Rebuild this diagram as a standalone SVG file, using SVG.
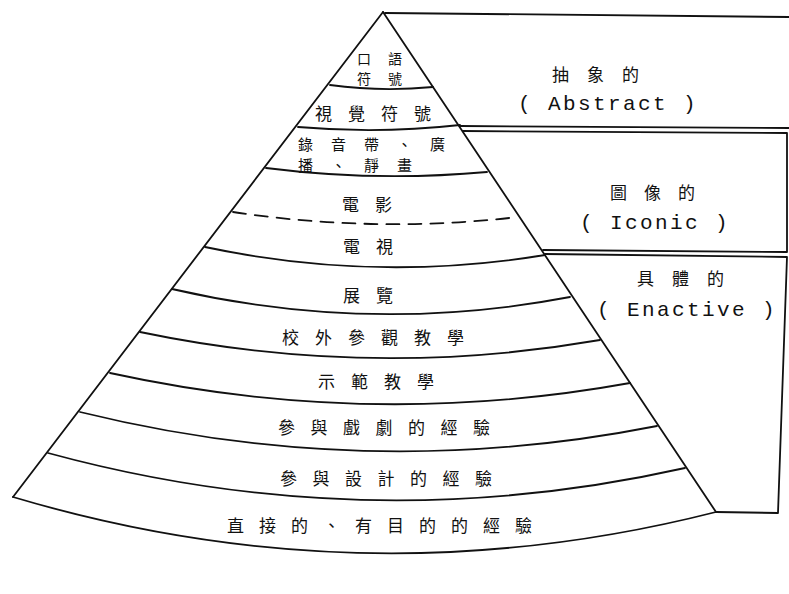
<svg xmlns="http://www.w3.org/2000/svg" width="789" height="594" viewBox="0 0 789 594">
<style>
.ln{fill:none;stroke:#111;stroke-width:1.8;stroke-linecap:round;stroke-linejoin:round}
.dash{stroke-dasharray:13 9}
.zh{font-family:"Noto Sans CJK TC","Noto Sans CJK SC",sans-serif;font-size:17px;fill:#111;letter-spacing:16px}
.en{font-family:"Liberation Mono",monospace;font-size:21px;fill:#111;letter-spacing:2.4px}
</style>
<rect width="789" height="594" fill="#fff"/>
<g id="connectors">
  <path class="ln" d="M383,12 L13,497"/>
  <path class="ln" d="M383,12 L716,512"/>
  <path class="ln" d="M330,85 Q381,92 433,87"/>
  <path class="ln" d="M298,127 Q379,134 460,125"/>
  <path class="ln" d="M266,168 Q376,182 487,172"/>
  <path class="ln dash" d="M233,212 Q375,233.5 518,217"/>
  <path class="ln" d="M205,247 Q375,283 545,255"/>
  <path class="ln" d="M172,289 Q371,335 570,297"/>
  <path class="ln" d="M140,332 Q370,380 600,340"/>
  <path class="ln" d="M110,373 Q370,430 630,383"/>
  <path class="ln" d="M80,412 Q368,483 657,426"/>
  <path class="ln" d="M48,453 Q366,539.5 685,468"/>
  <path class="ln" d="M13,497 Q364,601.5 716,512"/>
</g>
<g id="n-oral"><text class="zh" style="font-size:14px;letter-spacing:17px"><tspan x="357" y="64">口語</tspan><tspan x="357" y="84">符號</tspan></text></g>
<g id="n-visual"><text class="zh" x="315" y="120">視覺符號</text></g>
<g id="n-recording"><text class="zh" style="font-size:15px;letter-spacing:18px"><tspan x="298" y="150">錄音帶、廣</tspan><tspan x="298" y="171">播、靜畫</tspan></text></g>
<g id="n-film"><text class="zh" x="342" y="211">電影</text></g>
<g id="n-tv"><text class="zh" x="343" y="253">電視</text></g>
<g id="n-exhibit"><text class="zh" x="343" y="302">展覽</text></g>
<g id="n-trip"><text class="zh" x="282" y="344">校外參觀教學</text></g>
<g id="n-demo"><text class="zh" x="318" y="388">示範教學</text></g>
<g id="n-drama"><text class="zh" x="278" y="434" style="letter-spacing:15.5px">參與戲劇的經驗</text></g>
<g id="n-contrived"><text class="zh" x="280" y="485" style="letter-spacing:15.5px">參與設計的經驗</text></g>
<g id="n-direct"><text class="zh" x="227" y="532" style="letter-spacing:15px">直接的、有目的的經驗</text></g>
<g id="n-abstract">
  <path class="ln" d="M385,13 L789,17"/>
  <path class="ln" d="M460,126 L789,128"/>
  <text class="zh" x="552" y="81" style="letter-spacing:18px">抽象的</text>
  <text class="en" x="518" y="110">( Abstract )</text>
</g>
<g id="n-iconic">
  <path class="ln" d="M463,131 L787,133 L787,252 L543,250"/>
  <text class="zh" x="610" y="199" style="letter-spacing:17px">圖像的</text>
  <text class="en" x="580" y="229">( Iconic )</text>
</g>
<g id="n-enactive">
  <path class="ln" d="M545,254 L787,257 L778,513 L716,512"/>
  <text class="zh" x="637" y="285" style="letter-spacing:18px">具體的</text>
  <text class="en" x="597" y="316">( Enactive )</text>
</g>
</svg>
